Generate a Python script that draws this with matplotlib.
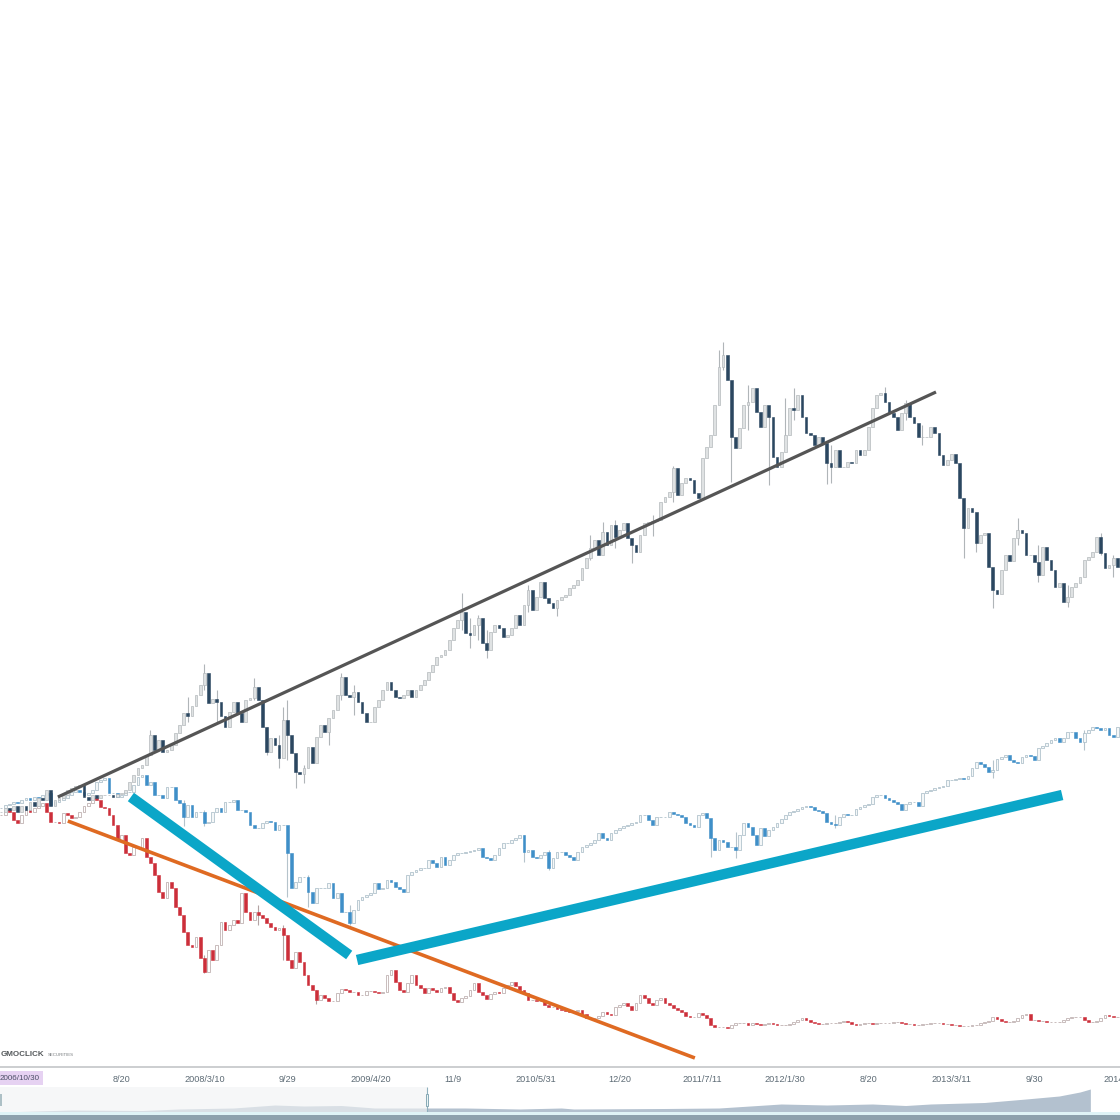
import numpy as np
from matplotlib import pyplot as plt

# levels are read downward from the top of the chart, one candle every 10 days
black_close = [
    812, 808, 810, 806, 812, 806, 810, 802, 806, 798, 800, 790, 806, 800, 798, 795, 790, 788, 786, 785,
    797, 800, 795, 798, 795, 795, 795, 797, 794, 793, 790, 782, 775, 768, 765, 755, 735, 750, 740, 752,
    750, 745, 733, 725, 713, 716, 706, 695, 685, 673, 703, 699, 702, 716, 727, 712, 702, 713, 722, 700,
    698, 687, 700, 727, 752, 738, 745, 758, 720, 735, 753, 772, 774, 768, 747, 763, 737, 725, 732, 718,
    710, 695, 677, 695, 697, 692, 702, 713, 722, 722, 707, 700, 690, 682, 690, 697, 698, 695, 690, 697,
    690, 685, 680, 672, 665, 657, 655, 650, 640, 628, 620, 612, 633, 635, 625, 618, 643, 650, 632, 625,
    628, 637, 635, 628, 615, 625, 605, 590, 610, 597, 582, 598, 603, 608, 600, 597, 595, 588, 585, 580,
    568, 558, 548, 540, 555, 532, 545, 525, 537, 530, 523, 538, 545, 552, 535, 523, 522, 521, 520, 502,
    497, 492, 468, 495, 483, 478, 480, 493, 498, 458, 447, 435, 405, 367, 355, 380, 437, 448, 428, 405,
    402, 388, 412, 427, 405, 417, 457, 467, 452, 435, 408, 410, 395, 417, 433, 435, 445, 437, 443, 463,
    467, 450, 467, 467, 462, 463, 450, 455, 450, 427, 408, 395, 393, 402, 413, 417, 430, 413, 403, 417,
    423, 437, 437, 437, 427, 433, 455, 465, 460, 454, 463, 498, 528, 508, 512, 543, 535, 533, 567, 590,
    594, 570, 555, 561, 538, 530, 533, 555, 555, 562, 575, 547, 560, 570, 587, 583, 602, 597, 587, 583,
    577, 560, 557, 552, 537, 553, 568, 565, 558, 567,
]
blue_close = [
    808, 805, 804, 802, 803, 800, 798, 800, 797, 798, 795, 793, 805, 802, 800, 798, 795, 792, 790, 792,
    795, 793, 790, 782, 780, 778, 793, 793, 797, 795, 792, 792, 785, 777, 775, 785, 782, 795, 795, 798,
    787, 787, 800, 803, 817, 805, 817, 812, 812, 823, 822, 812, 808, 812, 802, 802, 800, 810, 810, 812,
    825, 828, 828, 823, 821, 822, 830, 825, 825, 853, 888, 882, 877, 877, 892, 903, 888, 888, 888, 883,
    898, 893, 912, 912, 923, 910, 900, 897, 895, 893, 883, 889, 888, 880, 882, 887, 889, 892, 875, 872,
    870, 868, 868, 860, 863, 867, 857, 865, 860, 855, 853, 853, 852, 851, 850, 848, 857, 858, 860, 855,
    848, 843, 843, 840, 838, 835, 852, 850, 857, 858, 855, 852, 868, 858, 852, 852, 855, 857, 860, 852,
    847, 845, 843, 840, 833, 838, 840, 833, 830, 828, 826, 825, 823, 822, 815, 815, 820, 825, 817, 817,
    817, 812, 814, 815, 817, 823, 825, 827, 815, 813, 818, 838, 850, 840, 842, 847, 847, 850, 835, 823,
    827, 835, 845, 828, 836, 830, 827, 823, 819, 815, 812, 811, 809, 807, 806, 807, 810, 811, 813, 822,
    824, 825, 817, 814, 815, 815, 809, 807, 805, 804, 797, 795, 795, 798, 800, 802, 804, 810, 804, 802,
    802, 806, 793, 791, 790, 788, 787, 786, 780, 780, 779, 778, 779, 776, 768, 762, 764, 767, 772, 770,
    759, 757, 755, 760, 762, 763, 757, 755, 756, 760, 748, 746, 743, 740, 738, 742, 738, 732, 732, 738,
    742, 733, 730, 727, 728, 730, 728, 735, 737, 727,
]
red_close = [
    815, 810, 812, 820, 823, 815, 810, 812, 808, 806, 803, 812, 822, 822, 823, 813, 815, 818, 817, 812,
    806, 803, 798, 800, 807, 808, 815, 825, 840, 835, 853, 855, 847, 848, 838, 857, 863, 875, 892, 898,
    882, 888, 907, 915, 932, 945, 947, 937, 958, 972, 950, 960, 945, 922, 930, 925, 920, 923, 893, 912,
    920, 912, 915, 918, 923, 927, 930, 928, 935, 960, 968, 952, 962, 975, 985, 990, 1000, 995, 998, 1001,
    1001, 993, 989, 990, 992, 992, 995, 995, 991, 991, 992, 993, 992, 975, 970, 982, 990, 992, 983, 975,
    985, 988, 993, 988, 990, 992, 988, 987, 993, 1000, 1002, 998, 996, 990, 983, 992, 995, 999, 994, 992,
    993, 988, 985, 982, 986, 990, 993, 1000, 1000, 1001, 1001, 1005, 1007, 1007, 1009, 1010, 1011, 1012, 1011, 1010,
    1014, 1018, 1018, 1018, 1016, 1012, 1014, 1015, 1007, 1005, 1003, 1006, 1010, 1003, 995, 998, 1003, 1005, 1000, 998,
    1003, 1005, 1008, 1010, 1012, 1016, 1017, 1017, 1013, 1015, 1018, 1025, 1027, 1027, 1027, 1028, 1025, 1023, 1023, 1023,
    1025, 1023, 1024, 1025, 1024, 1023, 1024, 1025, 1025, 1025, 1024, 1022, 1020, 1018, 1020, 1022, 1023, 1024, 1024, 1023,
    1023, 1023, 1022, 1021, 1022, 1024, 1025, 1024, 1023, 1023, 1024, 1023, 1023, 1023, 1023, 1022, 1022, 1023, 1024, 1024,
    1025, 1025, 1024, 1024, 1023, 1023, 1023, 1024, 1024, 1025, 1025, 1026, 1026, 1026, 1025, 1025, 1023, 1022, 1021, 1017,
    1019, 1021, 1022, 1022, 1021, 1018, 1015, 1014, 1020, 1020, 1021, 1021, 1022, 1022, 1022, 1022, 1020, 1018, 1017, 1017,
    1017, 1020, 1022, 1022, 1021, 1018, 1015, 1016, 1017, 1017,
]

# only the wicks that stand out
black_wick_i = [36, 45, 49, 52, 61, 64, 67, 68, 69, 71, 73, 79, 82, 85, 111, 113, 115, 117, 127, 134, 142, 145, 148, 152, 157, 162,
                173, 174, 176, 180, 185, 189, 191, 199, 200, 213, 218, 222, 232, 235, 239, 245, 250, 257, 265, 268]
black_wick_hi = [730, 697, 664, 690, 678, 727, 735, 707, 700, 755, 765, 720, 673, 685, 593, 618, 615, 630, 585, 600, 535, 522, 520, 540, 515, 466,
                 350, 342, 435, 385, 410, 398, 388, 460, 445, 387, 400, 425, 500, 520, 570, 518, 545, 585, 533, 555]
black_wick_lo = [752, 722, 690, 722, 700, 755, 768, 735, 760, 788, 783, 745, 700, 715, 630, 648, 640, 658, 612, 616, 560, 550, 548, 563, 536, 502,
                 390, 370, 482, 430, 485, 440, 420, 484, 483, 400, 420, 445, 558, 552, 608, 545, 582, 607, 555, 577]
blue_wick_i = [44, 49, 69, 74, 84, 126, 132, 171, 177, 201, 239, 261]
blue_wick_hi = [800, 810, 850, 875, 905, 835, 850, 835, 832, 815, 760, 730]
blue_wick_lo = [826, 826, 897, 907, 925, 862, 870, 857, 858, 828, 778, 750]
red_wick_i = [49, 62, 68, 76]
red_wick_hi = [955, 905, 925, 990]
red_wick_lo = [973, 925, 960, 1004]

# trend lines drawn on the chart, as (candle, level) at both ends
black_trend = ([13.7, 225.3], [797, 392])
orange_trend = ([16.1, 167.2], [821, 1058])
blue_trend_down = ([31.3, 83.9], [797, 955])
blue_trend_up = ([85.8, 255.7], [960, 795])

tick_pos = [29, 49, 69, 89, 109, 129, 149, 169, 189, 209, 229, 249, 269]
tick_labels = ["8/20", "2008/3/10", "9/29", "2009/4/20", "11/9", "2010/5/31", "12/20",
               "2011/7/11", "2012/1/30", "8/20", "2013/3/11", "9/30", "2014/4"]

nav_i = [0, 17, 34, 43, 56, 66, 73, 82, 90, 103, 112, 125, 135, 138, 160, 173, 188, 199, 210, 218, 224, 237, 247, 255, 260, 262.5]
nav_v = [0, 2, 1.5, 3, 4, 7, 6, 6.5, 4, 4, 4, 3, 4, 3, 3.5, 4, 8, 7, 8, 6.5, 8, 9.5, 13, 16, 20, 23]

label_font = "Liberation Sans"


def draw_candles(ax, close, wick_i, wick_hi, wick_lo, down_color, up_edge, up_face, wick_color, z):
    close = np.array(close, dtype=float)
    x = np.arange(len(close))
    opens = np.r_[close[0], close[:-1]]
    ax.vlines(wick_i, wick_hi, wick_lo, color=wick_color, lw=0.8, zorder=z)
    up = close <= opens
    ax.bar(x[up], (opens - close)[up], bottom=close[up], width=0.66,
           color=up_face, edgecolor=up_edge, linewidth=0.5, zorder=z + 0.1)
    ax.bar(x[~up], (close - opens)[~up], bottom=opens[~up], width=0.66,
           color=down_color, edgecolor=down_color, linewidth=0.4, zorder=z + 0.2)


fig = plt.figure(figsize=(11.2, 11.2), dpi=100)
ax = fig.add_axes([0, 53 / 1120, 1, 1067 / 1120])
ax.set_xlim(-0.24, 269.64)
ax.set_ylim(1067, 0)

draw_candles(ax, red_close, red_wick_i, red_wick_hi, red_wick_lo, "#cc2f3a", "#b3a3a3", "#ffffff", "#b3a3a3", 2)
draw_candles(ax, blue_close, blue_wick_i, blue_wick_hi, blue_wick_lo, "#3f8fc8", "#a3b8c4", "#f4f7f8", "#b5c3cb", 3)
draw_candles(ax, black_close, black_wick_i, black_wick_hi, black_wick_lo, "#2b4760", "#b4b9bc", "#dfe2e3", "#b0b5b8", 4)

ax.plot(*black_trend, color="#555555", lw=2.3, solid_capstyle="butt", zorder=6)
ax.plot(*orange_trend, color="#df6a22", lw=2.6, solid_capstyle="butt", zorder=6)
ax.plot(*blue_trend_down, color="#0ba6c8", lw=7.5, solid_capstyle="butt", zorder=7)
ax.plot(*blue_trend_up, color="#0ba6c8", lw=7.5, solid_capstyle="butt", zorder=7)

for side in ["top", "left", "right"]:
    ax.spines[side].set_visible(False)
ax.spines["bottom"].set_color("#c4c6c8")
ax.spines["bottom"].set_linewidth(1.2)
ax.set_yticks([])
ax.set_xticks(tick_pos)
ax.set_xticklabels(tick_labels, family=label_font, fontsize=6.6, color="#5d6b75")
ax.tick_params(axis="x", length=0, pad=6)
ax.text(4.5, 1078, "2006/10/30", family=label_font, fontsize=5.8, color="#4b4f66", ha="center", va="center",
        clip_on=False, bbox=dict(boxstyle="square,pad=0.4", facecolor="#e6d2f2", edgecolor="none"))

fig.text(1 / 1120, 1 - 1055 / 1120, "GMOCLICK", family=label_font, fontsize=5.8, fontweight="bold",
         color="#55595c", ha="left", va="center")
fig.text(48 / 1120, 1 - 1055 / 1120, "SECURITIES", family=label_font, fontsize=3.2, color="#777b7e",
         ha="left", va="center")

# navigator strip under the chart
nav = fig.add_axes([0, 8 / 1120, 1, 25 / 1120])
nav.set_xlim(-0.24, 269.64)
nav.set_ylim(0, 25)
nav.axis("off")
nav.fill_between(nav_i, nav_v, 0, color="#b3c1cf", lw=0, zorder=1)
nav.axvspan(-0.24, 102.7, color="#f1f3f4", alpha=0.62, lw=0, zorder=2)
nav.vlines([102.7], 0, 25, color="#8fb0bd", lw=0.8, zorder=3)
nav.bar([102.7], [12], bottom=[6], width=0.5, color="#e9f3f5", edgecolor="#86a9b5", lw=0.7, zorder=4)
nav.vlines([-0.1], 6, 18, color="#9fb5bd", lw=1.2, zorder=3)

foot = fig.add_axes([0, 0, 1, 8 / 1120])
foot.set_xlim(0, 1)
foot.set_ylim(0, 8)
foot.axis("off")
foot.axhspan(0, 5, color="#8da1ad", lw=0)
foot.axhspan(5, 8, color="#dff3f6", lw=0)

fig.savefig("out.png", dpi=100)
